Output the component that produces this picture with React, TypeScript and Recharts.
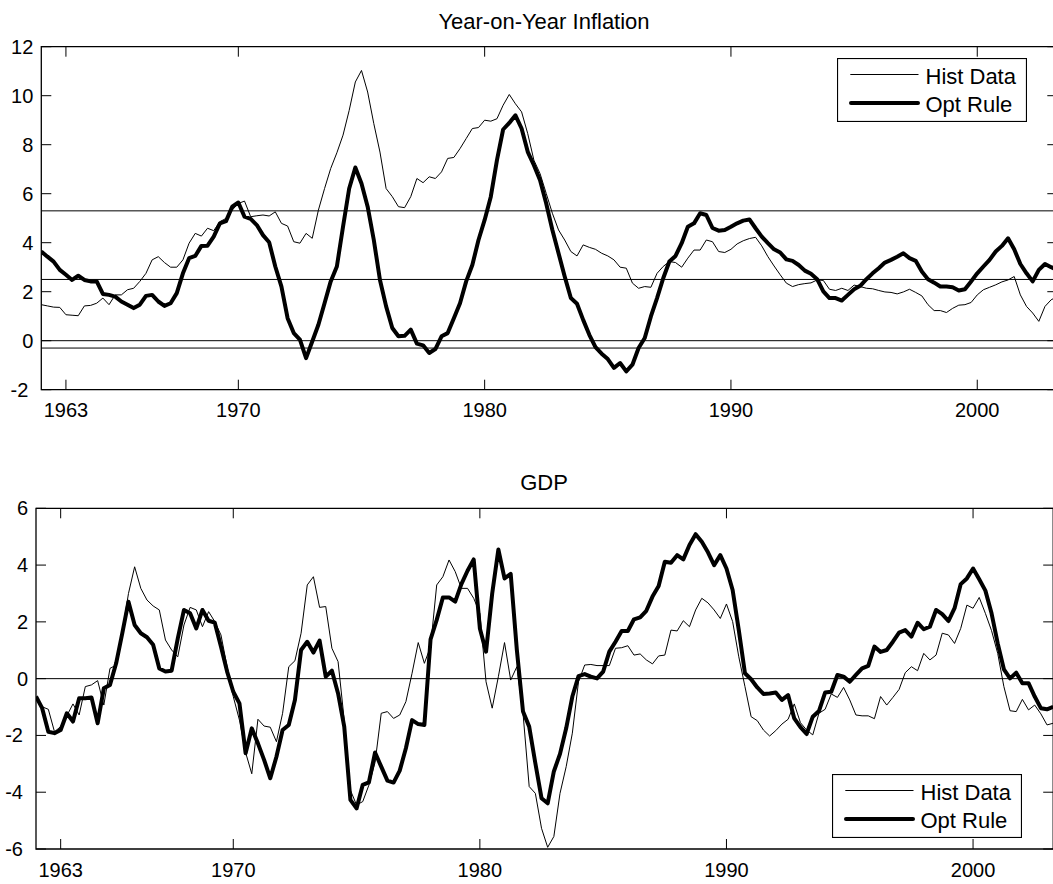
import { LineChart, Line, XAxis, YAxis, ReferenceLine, ReferenceArea, Legend } from 'recharts';

// quarterly observations, 1962Q1 .. 2003Q2
const QUARTERS = Array.from({ length: 166 }, (_, i) => 1962 + i / 4);

const INFLATION_HIST = [
  1.47, 1.42, 1.37, 1.36, 1.06, 1.04, 1.02, 1.42, 1.44, 1.53,
  1.74, 1.47, 1.87, 1.87, 2.08, 2.14, 2.42, 2.75, 3.3, 3.43,
  3.19, 3.0, 3.0, 3.3, 3.98, 4.38, 4.27, 4.59, 4.49, 4.86,
  4.99, 5.33, 5.6, 5.7, 5.06, 5.1, 5.13, 5.09, 5.26, 4.79,
  4.68, 4.04, 3.98, 4.38, 4.18, 5.33, 6.21, 7.03, 7.67, 8.39,
  9.4, 10.56, 11.03, 10.15, 8.86, 7.7, 6.21, 5.88, 5.47, 5.43,
  5.88, 6.62, 6.45, 6.69, 6.62, 6.89, 7.44, 7.48, 7.84, 8.25,
  8.66, 8.7, 9.0, 8.96, 9.06, 9.61, 10.05, 9.67, 9.34, 8.45,
  7.37, 6.82, 6.01, 5.2, 4.52, 4.11, 3.64, 3.46, 3.91, 3.81,
  3.73, 3.57, 3.46, 3.3, 3.0, 2.96, 2.35, 2.14, 2.21, 2.18,
  2.75, 3.03, 3.23, 3.19, 3.0, 3.37, 3.7, 3.7, 4.11, 4.04,
  3.64, 3.6, 3.73, 3.95, 4.08, 4.17, 4.22, 3.87, 3.43, 3.05,
  2.69, 2.35, 2.21, 2.29, 2.33, 2.36, 2.48, 2.46, 2.1, 2.05,
  2.14, 2.05, 2.27, 2.21, 2.14, 2.12, 2.05, 1.99, 1.97, 1.91,
  1.99, 2.1, 1.97, 1.83, 1.47, 1.23, 1.23, 1.15, 1.32, 1.45,
  1.47, 1.56, 1.87, 2.08, 2.18, 2.28, 2.4, 2.48, 2.62, 1.87,
  1.4, 1.13, 0.79, 1.4, 1.67, 1.8,
];

const INFLATION_OPT = [
  3.64, 3.43, 3.23, 2.89, 2.69, 2.48, 2.65, 2.48, 2.42, 2.42,
  1.91, 1.87, 1.8, 1.6, 1.47, 1.33, 1.47, 1.83, 1.87, 1.6,
  1.42, 1.53, 1.94, 2.75, 3.37, 3.46, 3.87, 3.88, 4.25, 4.79,
  4.88, 5.47, 5.64, 5.06, 4.97, 4.72, 4.31, 4.02, 3.03, 2.21,
  0.92, 0.31, 0.04, -0.71, -0.03, 0.65, 1.53, 2.42, 3.03, 4.65,
  6.21, 7.07, 6.42, 5.47, 4.11, 2.48, 1.4, 0.52, 0.18, 0.2,
  0.45, -0.12, -0.19, -0.5, -0.34, 0.18, 0.31, 0.92, 1.53, 2.42,
  3.09, 4.11, 4.93, 5.88, 7.37, 8.62, 8.89, 9.2, 8.66, 7.71,
  7.16, 6.55, 5.6, 4.52, 3.57, 2.62, 1.74, 1.51, 0.85, 0.24,
  -0.26, -0.53, -0.75, -1.11, -0.91, -1.25, -0.98, -0.3, 0.11, 0.99,
  1.74, 2.55, 3.23, 3.46, 3.98, 4.65, 4.79, 5.2, 5.13, 4.6,
  4.49, 4.52, 4.65, 4.79, 4.9, 4.95, 4.59, 4.25, 3.98, 3.73,
  3.6, 3.32, 3.26, 3.09, 2.86, 2.73, 2.51, 2.01, 1.74, 1.74,
  1.64, 1.87, 2.1, 2.24, 2.51, 2.75, 2.96, 3.19, 3.3, 3.43,
  3.57, 3.37, 3.26, 2.82, 2.51, 2.37, 2.21, 2.21, 2.18, 2.05,
  2.1, 2.42, 2.75, 3.03, 3.3, 3.64, 3.87, 4.18, 3.73, 3.13,
  2.75, 2.42, 2.89, 3.13, 3.0, 2.89,
];

const GDP_HIST = [
  -0.75, -0.99, -1.08, -1.87, -1.69, -1.31, -0.89, -1.28, -0.28, -0.22,
  -0.07, -0.93, 0.36, 0.48, 1.65, 3.0, 3.94, 3.18, 2.77, 2.56,
  2.42, 1.36, 1.01, 0.77, 1.89, 2.51, 2.42, 1.83, 2.36, 2.01,
  1.54, 0.42, -0.63, -1.46, -2.6, -3.35, -1.43, -1.67, -1.71, -2.22,
  -1.22, 0.42, 0.63, 1.6, 3.3, 3.59, 2.51, 2.54, 1.07, 0.6,
  -1.46, -3.93, -4.45, -4.33, -3.75, -2.95, -1.22, -1.16, -1.4, -1.28,
  -0.81, 0.19, 1.27, 0.54, 1.13, 3.3, 3.59, 4.18, 3.77, 3.18,
  3.18, 2.83, 2.3, -0.11, -1.04, 0.07, 1.27, -0.05, 0.42, -1.22,
  -3.8, -4.04, -5.27, -5.94, -5.56, -4.04, -3.1, -1.92, -0.11, 0.48,
  0.5, 0.46, 0.46, 0.46, 1.07, 1.09, 1.16, 0.83, 0.87, 0.66,
  0.52, 0.8, 0.83, 1.71, 1.68, 2.04, 1.83, 2.42, 2.83, 2.67,
  2.42, 2.12, 2.63, 2.01, 0.77, -0.28, -1.34, -1.48, -1.81, -2.02,
  -1.83, -1.6, -1.43, -0.89, -1.55, -1.81, -1.98, -1.22, -1.08, -0.54,
  -0.66, -0.31, -0.75, -1.28, -1.31, -1.31, -1.41, -0.63, -0.93, -0.66,
  -0.38, 0.21, 0.42, 0.28, 0.89, 0.66, 0.83, 1.6, 1.54, 1.24,
  1.77, 2.59, 2.48, 2.86, 2.3, 1.69, 0.89, -0.28, -1.13, -1.16,
  -0.73, -1.1, -0.93, -1.24, -1.63, -1.57,
];

const GDP_OPT = [
  -0.63, -1.04, -1.87, -1.92, -1.81, -1.22, -1.51, -0.69, -0.69, -0.66,
  -1.57, -0.34, -0.22, 0.54, 1.6, 2.71, 1.89, 1.6, 1.46, 1.19,
  0.36, 0.25, 0.28, 1.42, 2.42, 2.3, 1.77, 2.42, 2.04, 1.97,
  1.13, 0.25, -0.46, -0.87, -2.63, -1.75, -2.28, -2.86, -3.51, -2.75,
  -1.81, -1.63, -0.75, 1.01, 1.3, 0.92, 1.34, 0.07, 0.28, -0.52,
  -1.69, -4.27, -4.57, -3.74, -3.65, -2.6, -3.1, -3.59, -3.66, -3.24,
  -2.45, -1.46, -1.6, -1.63, 1.38, 2.07, 2.86, 2.86, 2.71, 3.33,
  3.8, 4.2, 1.77, 0.95, 3.0, 4.55, 3.53, 3.69, 1.01, -1.16,
  -1.69, -2.98, -4.21, -4.39, -3.27, -2.65, -1.75, -0.63, 0.09, 0.16,
  0.07, 0.01, 0.25, 0.95, 1.3, 1.68, 1.68, 2.09, 2.16, 2.39,
  2.89, 3.26, 4.12, 4.08, 4.35, 4.2, 4.71, 5.09, 4.82, 4.45,
  4.0, 4.35, 3.88, 3.12, 1.71, 0.19, -0.02, -0.31, -0.54, -0.52,
  -0.49, -0.75, -0.58, -1.4, -1.71, -1.95, -1.34, -1.14, -0.49, -0.46,
  0.13, 0.07, -0.11, 0.13, 0.36, 0.45, 1.13, 0.94, 1.01, 1.3,
  1.62, 1.71, 1.48, 1.97, 1.74, 1.83, 2.42, 2.27, 2.03, 2.48,
  3.33, 3.53, 3.88, 3.5, 3.1, 2.3, 1.24, 0.33, 0.01, 0.21,
  -0.16, -0.16, -0.63, -1.04, -1.08, -0.99,
];

const SERIES_NAMES = ['Hist Data', 'Opt Rule'];
const X_TICKS = [1963, 1970, 1980, 1990, 2000];
const INF_TICKS = [-2, 0, 2, 4, 6, 8, 10, 12];
const GDP_TICKS = [-6, -4, -2, 0, 2, 4, 6];
const INF_REFS = [5.3, 2.5, 0, -0.3];
const GDP_REFS = [0];

const FONT = '"Liberation Sans", Arial, Helvetica, sans-serif';
const X_DOMAIN: [number, number] = [1962, 2003.25];
const CHART_W = 1070;
const X_AXIS_H = 34;

const inflationData = QUARTERS.map((year, i) => ({ year, hist: INFLATION_HIST[i], opt: INFLATION_OPT[i] }));
const gdpData = QUARTERS.map((year, i) => ({ year, hist: GDP_HIST[i], opt: GDP_OPT[i] }));

function makeYTick(left: number, right: number) {
  return (props: any) => {
    const { y, payload } = props;
    const v = payload.value;
    return (
      <g>
        <line x1={left} x2={left + 10} y1={y} y2={y} stroke="#000" />
        <line x1={right - 10} x2={right} y1={y} y2={y} stroke="#000" />
        <text x={left - (v < 0 ? 13 : 8)} y={y + 7} textAnchor="end" fontSize={20} fill="#000">
          {String(v)}
        </text>
      </g>
    );
  };
}

function makeXTick(top: number, bottom: number) {
  return (props: any) => {
    const { x, payload } = props;
    return (
      <g>
        <line x1={x} x2={x} y1={bottom} y2={bottom - 10} stroke="#000" />
        <line x1={x} x2={x} y1={top} y2={top + 10} stroke="#000" />
        <text x={x} y={bottom + 27.7} textAnchor="middle" fontSize={20} fill="#000">
          {payload.value}
        </text>
      </g>
    );
  };
}

function LegendBox() {
  return (
    <svg width={190} height={64} style={{ display: 'block', fontFamily: FONT }}>
      <rect x={0.5} y={0.5} width={189} height={63} fill="#fff" stroke="#000" strokeWidth={1.2} />
      <line x1={13.3} x2={81.5} y1={16.5} y2={16.5} stroke="#000" strokeWidth={1} />
      <text x={88.5} y={25.6} fontSize={22} fill="#000">{SERIES_NAMES[0]}</text>
      <line x1={14} x2={81} y1={45} y2={45} stroke="#000" strokeWidth={4} strokeLinecap="round" />
      <text x={88.5} y={54} fontSize={22} fill="#000">{SERIES_NAMES[1]}</text>
    </svg>
  );
}

interface PanelProps {
  data: { year: number; hist: number; opt: number }[];
  height: number;
  plot: { top: number; bottom: number; left: number; right: number };
  yDomain: [number, number];
  yTicks: number[];
  refs: number[];
  legendPos: { left: number; top: number };
}

function Panel({ data, height, plot, yDomain, yTicks, refs, legendPos }: PanelProps) {
  const margin = {
    top: plot.top,
    left: 0,
    right: CHART_W - plot.right,
    bottom: height - plot.bottom - X_AXIS_H,
  };

  return (
    <LineChart width={CHART_W} height={height} data={data} margin={margin}>
      <XAxis
        dataKey="year"
        type="number"
        domain={X_DOMAIN}
        ticks={X_TICKS}
        interval={0}
        height={X_AXIS_H}
        axisLine={false}
        tickLine={false}
        tick={makeXTick(plot.top, plot.bottom)}
        allowDataOverflow
      />
      <YAxis
        type="number"
        domain={yDomain}
        ticks={yTicks}
        interval={0}
        width={plot.left}
        axisLine={false}
        tickLine={false}
        tick={makeYTick(plot.left, plot.right)}
        allowDataOverflow
      />
      {refs.map((r) => (
        <ReferenceLine key={r} y={r} stroke="#000" strokeWidth={1} />
      ))}
      <Line type="linear" dataKey="hist" name={SERIES_NAMES[0]} stroke="#000" strokeWidth={1} dot={false} isAnimationActive={false} />
      <Line type="linear" dataKey="opt" name={SERIES_NAMES[1]} stroke="#000" strokeWidth={4} strokeLinejoin="round" dot={false} isAnimationActive={false} />
      <ReferenceArea x1={X_DOMAIN[0]} x2={X_DOMAIN[1]} y1={yDomain[0]} y2={yDomain[1]} fill="none" fillOpacity={0} stroke="#000" strokeWidth={1.3} />
      <Legend
        layout="horizontal"
        verticalAlign="middle"
        align="center"
        content={() => <LegendBox />}
        wrapperStyle={{ left: legendPos.left, top: legendPos.top, width: 190, height: 64 }}
      />
    </LineChart>
  );
}

export default function App() {
  return (
    <div
      style={{
        position: 'absolute',
        left: 0,
        top: 0,
        width: 1053,
        height: 884,
        overflow: 'hidden',
        background: '#fff',
        fontFamily: FONT,
      }}
    >
      <div style={{ position: 'absolute', left: 0, top: 0 }}>
        <Panel
          data={inflationData}
          height={440}
          plot={{ top: 46.7, bottom: 389.7, left: 41.3, right: 1057.3 }}
          yDomain={[-2, 12]}
          yTicks={INF_TICKS}
          refs={INF_REFS}
          legendPos={{ left: 836.7, top: 57.7 }}
        />
      </div>
      <div style={{ position: 'absolute', left: 0, top: 460 }}>
        <Panel
          data={gdpData}
          height={424}
          plot={{ top: 48.3, bottom: 389, left: 36, right: 1053.2 }}
          yDomain={[-6, 6]}
          yTicks={GDP_TICKS}
          refs={GDP_REFS}
          legendPos={{ left: 831.7, top: 314.3 }}
        />
      </div>
      <svg width={1053} height={884} style={{ position: 'absolute', left: 0, top: 0, pointerEvents: 'none' }}>
        <text x={544} y={29.3} textAnchor="middle" fontSize={22} fill="#000">Year-on-Year Inflation</text>
        <text x={544} y={490} textAnchor="middle" fontSize={22} fill="#000">GDP</text>
      </svg>
    </div>
  );
}
